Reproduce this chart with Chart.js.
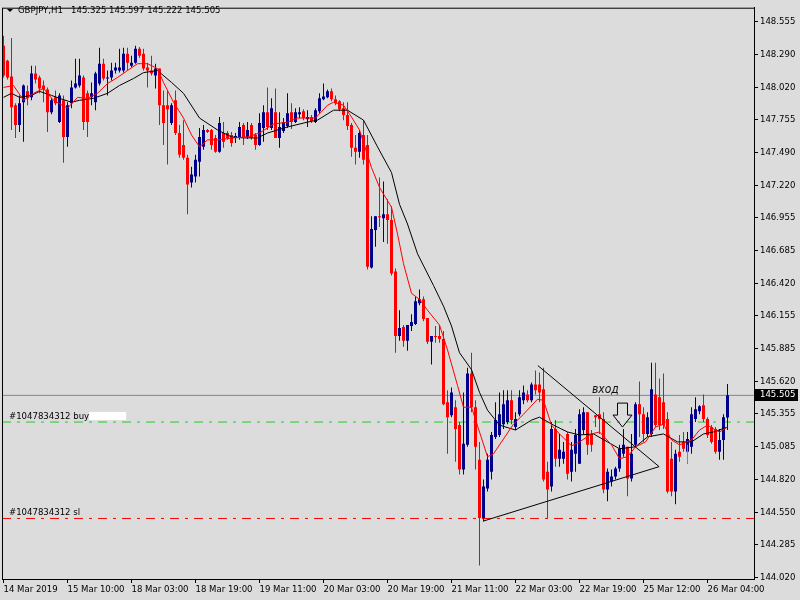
<!DOCTYPE html>
<html>
<head>
<meta charset="utf-8">
<script src="https://cdn.jsdelivr.net/npm/chart.js@4.4.1/dist/chart.umd.min.js"></script>
<style>
  html, body { margin: 0; padding: 0; background: #dcdcdc; }
  #wrap { width: 800px; height: 600px; }
</style>
</head>
<body>
<div id="wrap"><canvas id="c" width="800" height="600"></canvas></div>
<script>
// GBPJPY H1 candles (bar 0 = 14 Mar 18:00)
const open = [
  148.359,148.237,148.108,147.874,147.712,147.898,147.987,147.938,148.132,148.100,
  148.035,148.003,147.817,147.938,147.736,147.914,147.615,147.890,148.019,148.035,
  148.100,147.971,147.938,147.898,148.051,148.213,148.092,148.100,148.157,148.157,
  148.157,148.294,148.197,148.221,148.334,148.294,148.181,148.157,148.116,148.173,
  147.874,147.874,147.728,147.914,147.647,147.550,147.445,147.243,147.292,147.413,
  147.534,147.672,147.672,147.607,147.494,147.647,147.647,147.631,147.607,147.607,
  147.712,147.615,147.712,147.631,147.550,147.688,147.817,147.688,147.817,147.607,
  147.663,147.704,147.817,147.736,147.801,147.825,147.760,147.777,147.736,147.825,
  147.922,147.938,147.987,147.922,147.906,147.849,147.793,147.712,147.526,147.494,
  147.631,147.550,146.548,146.855,146.968,146.952,146.984,146.936,146.516,145.990,
  146.063,145.950,146.071,146.087,146.257,146.289,146.136,145.942,145.990,145.990,
  145.966,145.448,145.343,145.408,145.262,144.899,145.101,145.683,145.408,144.980,
  144.503,144.745,144.882,145.166,145.182,145.270,145.287,145.465,145.246,145.351,
  145.465,145.513,145.465,145.594,145.594,145.554,144.882,144.761,145.230,144.988,
  144.988,145.190,144.882,145.028,144.947,145.222,145.368,145.190,145.343,145.351,
  145.311,144.737,144.802,144.842,144.907,145.028,145.085,144.826,145.101,145.432,
  145.351,145.190,145.190,145.513,145.489,145.448,145.311,144.988,144.721,145.044,
  145.125,145.044,145.085,145.311,145.376,145.424,145.311,145.246,145.230,145.044,
  145.141,145.325
];
const high = [
  148.440,148.245,148.423,147.890,147.954,148.043,148.035,148.197,148.197,148.116,
  148.076,148.019,147.930,147.995,147.971,147.954,147.898,148.076,148.254,148.254,
  148.116,147.995,148.060,148.148,148.342,148.254,148.157,148.221,148.221,148.334,
  148.342,148.342,148.278,148.359,148.350,148.334,148.221,148.278,148.213,148.173,
  147.995,147.995,147.890,147.995,147.712,147.752,147.469,147.372,147.469,147.688,
  147.712,147.680,147.680,147.631,147.777,147.736,147.663,147.655,147.647,147.736,
  147.728,147.736,147.728,147.647,147.809,147.874,148.019,147.930,148.011,147.817,
  147.769,147.971,147.890,147.849,147.857,147.841,147.833,147.793,147.849,147.971,
  148.051,148.003,148.011,147.954,147.914,147.898,147.898,147.728,147.631,147.672,
  147.752,147.631,146.968,146.968,147.284,147.251,147.106,147.049,146.540,146.200,
  146.079,146.079,146.168,146.313,146.370,146.313,146.136,145.990,146.071,146.079,
  146.031,145.546,145.570,145.465,145.287,145.529,145.731,145.853,145.465,145.125,
  144.818,145.028,145.206,145.448,145.529,145.546,145.546,145.546,145.368,145.546,
  145.586,145.546,145.610,145.707,145.691,145.731,144.963,145.287,145.303,145.190,
  145.125,145.206,145.125,145.230,145.392,145.408,145.368,145.222,145.343,145.489,
  145.368,144.907,144.899,144.923,145.101,145.230,145.085,145.190,145.448,145.618,
  145.408,145.368,145.772,145.772,145.643,145.683,145.368,145.125,145.061,145.182,
  145.206,145.206,145.408,145.489,145.424,145.513,145.327,145.262,145.246,145.230,
  145.351,145.597
];
const low = [
  148.100,148.084,147.672,147.607,147.655,147.575,147.874,147.914,148.051,147.971,
  147.898,147.655,147.801,147.874,147.728,147.405,147.534,147.849,148.011,148.019,
  147.672,147.615,147.874,147.833,148.035,148.076,147.954,148.076,148.132,148.140,
  148.140,148.157,148.181,148.213,148.262,148.157,148.019,148.116,148.011,147.712,
  147.550,147.389,147.712,147.631,147.445,147.429,146.984,147.203,147.243,147.292,
  147.510,147.647,147.510,147.486,147.486,147.526,147.591,147.534,147.566,147.591,
  147.550,147.599,147.591,147.510,147.542,147.575,147.672,147.672,147.607,147.526,
  147.647,147.688,147.680,147.728,147.769,147.752,147.696,147.728,147.728,147.809,
  147.914,147.930,147.906,147.874,147.825,147.752,147.672,147.453,147.389,147.445,
  147.389,146.532,146.540,146.718,146.879,146.758,146.742,146.483,145.853,145.950,
  145.901,145.869,146.031,146.079,146.241,146.111,145.925,145.756,145.934,145.934,
  145.424,145.028,145.327,144.963,144.858,144.858,145.085,145.368,144.899,144.115,
  144.478,144.721,144.818,145.149,145.166,145.230,145.270,145.270,145.222,145.335,
  145.432,145.448,145.448,145.513,145.448,144.802,144.503,144.721,144.923,144.923,
  144.947,144.818,144.802,144.882,144.947,145.190,145.020,145.044,145.246,145.190,
  144.705,144.640,144.761,144.818,144.882,145.004,144.681,144.802,145.085,145.166,
  145.125,145.166,145.166,145.246,145.222,145.230,144.705,144.681,144.616,144.963,
  145.044,144.947,145.028,145.287,145.351,145.287,145.157,145.109,145.028,144.980,
  144.980,145.222
];
const close = [
  148.116,148.100,147.857,147.712,147.890,148.035,147.930,148.132,148.084,148.011,
  148.003,147.817,147.914,147.890,147.954,147.615,147.874,148.019,148.051,148.116,
  147.736,147.736,147.971,148.132,148.213,148.092,148.100,148.157,148.181,148.181,
  148.294,148.221,148.221,148.334,148.278,148.173,148.157,148.132,148.173,147.874,
  147.728,147.841,147.874,147.647,147.469,147.445,147.227,147.308,147.429,147.615,
  147.672,147.655,147.550,147.494,147.728,147.575,147.607,147.566,147.623,147.696,
  147.615,147.672,147.607,147.550,147.728,147.817,147.696,147.849,147.607,147.696,
  147.736,147.809,147.736,147.817,147.817,147.769,147.777,147.744,147.833,147.930,
  147.946,147.987,147.922,147.890,147.841,147.793,147.704,147.526,147.494,147.647,
  147.429,146.556,146.863,146.968,146.960,146.984,146.936,146.499,145.990,146.055,
  145.950,146.079,146.103,146.273,146.289,146.128,145.942,145.990,145.982,145.966,
  145.432,145.327,145.529,145.230,144.899,145.109,145.683,145.408,145.085,144.503,
  144.761,144.980,145.182,145.303,145.351,145.432,145.465,145.303,145.311,145.489,
  145.529,145.465,145.594,145.546,145.529,144.818,144.737,145.230,144.988,145.061,
  145.044,144.866,145.061,145.182,145.351,145.368,145.101,145.101,145.327,145.311,
  144.737,144.882,144.842,144.907,145.069,145.101,144.826,145.028,145.432,145.351,
  145.190,145.327,145.554,145.262,145.262,145.262,144.721,144.721,145.028,145.004,
  145.069,145.149,145.351,145.392,145.416,145.311,145.182,145.125,145.044,145.141,
  145.327,145.505
];

// moving averages (bar index, price), read at points along each curve
const maFastIdx = [0,2.5,5,7.5,10,12.5,16,18.5,21,23.5,26,28.5,31,33.5,36,38.5,40,42.5,45,47,
  49,51,53.5,57.5,61,64,67.5,71,73.5,78,81,82.5,85,87,89,92,94,97,98.5,100,
  102,104,106,109,111,113.5,115,117,119,121,122.5,125,127.5,130,133.5,135,137,139,142,144,
  147,149,152,154,156,158,160.5,163,165,167,169,172,174,176,178,179,181];
const maFastVal = [148.019,148.035,147.914,147.971,148.011,147.914,147.849,147.938,147.930,147.971,
  148.051,148.100,148.157,148.213,148.213,148.173,148.060,147.898,147.769,147.631,
  147.534,147.591,147.591,147.607,147.615,147.647,147.720,147.736,147.769,147.769,
  147.874,147.898,147.874,147.777,147.672,147.364,147.203,147.041,146.823,146.580,
  146.338,146.289,146.200,146.079,145.877,145.586,145.408,145.408,145.206,145.004,
  145.028,145.149,145.270,145.351,145.473,145.465,145.262,145.190,145.093,145.125,
  145.190,145.206,145.101,144.988,145.004,145.085,145.125,145.246,145.270,145.141,
  145.101,145.141,145.222,145.262,145.222,145.206,145.246];
const maSlowIdx = [0,2,4,7,9,12,14,17,19,22.5,26,29,32.5,35,38.5,42,45,49,53.5,57,
  60,63.5,66,71,76,78.5,82.5,86,90,93.5,97,99,101,103.5,107.5,110,112,114,117,119,
  121,124,128,132,134,137.5,141,144,147.5,151,154,158,161,165,168.5,172,175,177.5,181];
const maSlowVal = [147.938,147.971,147.938,147.954,147.987,147.954,147.930,147.898,147.914,147.930,
  147.971,148.035,148.092,148.140,148.157,148.060,147.971,147.769,147.672,147.615,
  147.607,147.607,147.647,147.696,147.736,147.752,147.833,147.833,147.752,147.534,
  147.324,147.065,146.904,146.661,146.402,146.233,146.071,145.853,145.715,145.529,
  145.384,145.262,145.222,145.303,145.327,145.262,145.206,145.182,145.190,145.125,
  145.069,145.085,145.166,145.190,145.125,145.125,145.190,145.206,145.246];

// triangle trend lines
const trendDownIdx = [133.6, 163.9];
const trendDownVal = [145.748, 144.923];
const trendUpIdx = [119.9, 163.9];
const trendUpVal = [144.478, 144.923];

// levels
const bidPrice = 145.505;
const buyPrice = 145.287;
const slPrice = 144.500;
const entryIdx = [171];
const entryLow = [144.947];
const entryHigh = [145.101];

const xTickIdx = [0, 16, 32, 48, 64, 80, 96, 112, 128, 144, 160, 176];
const xTickLabels = ['14 Mar 2019', '15 Mar 10:00', '18 Mar 03:00', '18 Mar 19:00', '19 Mar 11:00',
  '20 Mar 03:00', '20 Mar 19:00', '21 Mar 11:00', '22 Mar 03:00', '22 Mar 19:00', '25 Mar 12:00', '26 Mar 04:00'];
const yTickLabels = ['148.555', '148.290', '148.020', '147.755', '147.490', '147.220', '146.955', '146.685',
  '146.420', '146.155', '145.885', '145.620', '145.355', '145.085', '144.820', '144.550', '144.285', '144.020'];

const FONT = "'DejaVu Sans Condensed', 'Liberation Sans', Arial, sans-serif";
const BULL = '#00008b', BEAR = '#ff0000';
const X_MIN = -0.375, X_MAX = 187.625;
const Y_MIN = 144.0057, Y_MAX = 148.670;

const candleColor = i => close[i] >= open[i] ? BULL : BEAR;
const pts = (xs, ys) => xs.map((x, i) => ({ x, y: ys[i] }));
const hline = v => [{ x: X_MIN, y: v }, { x: X_MAX, y: v }];
const lineDs = (data, color, extra) => Object.assign({
  type: 'line', data, borderColor: color, borderWidth: 1, pointRadius: 0,
  tension: 0, fill: false, clip: 0
}, extra || {});

const chrome = {
  id: 'chrome',
  beforeDraw(chart) {
    const c = chart.ctx;
    c.save();
    c.fillStyle = '#dcdcdc';
    c.fillRect(0, 0, chart.width, chart.height);
    c.restore();
  },
  afterDraw(chart) {
    const { ctx: c, chartArea: a, scales: { x, y } } = chart;
    c.save();
    c.strokeStyle = '#000';
    c.lineWidth = 1;
    c.strokeRect(a.left + 0.5, a.top + 0.5, a.right - a.left, a.bottom - a.top);

    // header
    c.fillStyle = '#000';
    c.beginPath(); c.moveTo(7, 9); c.lineTo(13, 9); c.lineTo(10, 12); c.closePath(); c.fill();
    c.font = '9.5px ' + FONT;
    c.textBaseline = 'middle';
    c.fillText('GBPJPY,H1   145.325 145.597 145.222 145.505', 18, 11);

    // order labels
    c.font = '9.5px ' + FONT;
    c.textBaseline = 'alphabetic';
    const by = y.getPixelForValue(buyPrice);
    c.fillText('#1047834312 buy', 9, by - 3);
    const w = c.measureText('#1047834312 buy').width;
    c.fillStyle = '#fff';
    c.fillRect(9 + w, by - 10, 37, 8);
    c.fillStyle = '#000';
    const sy = y.getPixelForValue(slPrice);
    c.fillText('#1047834312 sl', 9, sy - 3);

    // entry text + arrow
    c.fillStyle = '#111';
    c.font = 'italic 12px ' + FONT;
    c.fillText('вход', x.getPixelForValue(147.1), y.getPixelForValue(145.521));
    const ax = x.getPixelForValue(154.75), ay = y.getPixelForValue(145.246);
    c.beginPath();
    c.moveTo(ax, ay);
    c.lineTo(ax - 9.5, ay - 12);
    c.lineTo(ax - 5, ay - 12);
    c.lineTo(ax - 5, ay - 24);
    c.lineTo(ax + 5, ay - 24);
    c.lineTo(ax + 5, ay - 12);
    c.lineTo(ax + 9.5, ay - 12);
    c.closePath();
    c.stroke();

    // bid price box on the axis
    const py = Math.round(y.getPixelForValue(bidPrice));
    c.fillStyle = '#000';
    c.fillRect(755, py - 6, 43, 12);
    c.fillStyle = '#fff';
    c.font = '9.5px ' + FONT;
    c.textBaseline = 'middle';
    c.fillText('145.505', 760, py);
    c.restore();
  }
};

new Chart(document.getElementById('c'), {
  type: 'bar',
  data: {
    datasets: [
      lineDs(pts(trendDownIdx, trendDownVal), '#000'),
      lineDs(pts(trendUpIdx, trendUpVal), '#000'),
      lineDs(pts(maFastIdx, maFastVal), '#ff0000'),
      lineDs(pts(maSlowIdx, maSlowVal), '#000000'),
      { type: 'bar', data: entryIdx.map((x, i) => ({ x, y: [entryLow[i], entryHigh[i]] })),
        backgroundColor: '#22cc22', barThickness: 1, grouped: false, inflateAmount: 0 },
      { type: 'bar', data: open.map((o, i) => ({ x: i, y: [o, close[i]] })),
        backgroundColor: c => candleColor(c.dataIndex), barThickness: 3, grouped: false,
        inflateAmount: 0, minBarLength: 1 },
      { type: 'bar', data: low.map((l, i) => ({ x: i, y: [l, high[i]] })),
        backgroundColor: c => candleColor(c.dataIndex), barThickness: 1, grouped: false,
        inflateAmount: 0 },
      lineDs(hline(bidPrice), '#778899'),
      lineDs(hline(buyPrice), '#22cc22', { borderDash: [9, 6, 3, 6] }),
      lineDs(hline(slPrice), '#ff0000', { borderDash: [9, 6, 3, 6] })
    ]
  },
  options: {
    responsive: false, animation: false,
    layout: { padding: { left: 2, top: 2, right: 0, bottom: 0 } },
    plugins: { legend: { display: false }, tooltip: { enabled: false } },
    scales: {
      x: {
        type: 'linear', min: X_MIN, max: X_MAX, offset: false, bounds: 'data',
        afterBuildTicks: s => { s.ticks = xTickIdx.map(v => ({ value: v })); },
        afterFit: s => { s.height = 21; },
        ticks: { callback: (v, i) => xTickLabels[i], autoSkip: false, maxRotation: 0, minRotation: 0,
          align: 'start', padding: 1, color: '#000', font: { family: FONT, size: 9.5 } },
        grid: { offset: false, drawOnChartArea: false, drawTicks: true, tickLength: 4, color: '#000' },
        border: { display: true, color: '#000' }
      },
      y: {
        type: 'linear', position: 'right', min: Y_MIN, max: Y_MAX, beginAtZero: false, bounds: 'data',
        afterBuildTicks: s => { s.ticks = yTickLabels.map(t => ({ value: parseFloat(t) })); },
        afterFit: s => { s.width = 46; },
        ticks: { callback: (v, i) => yTickLabels[i], autoSkip: false, padding: 2, color: '#000',
          font: { family: FONT, size: 9.5 } },
        grid: { drawOnChartArea: false, drawTicks: true, tickLength: 4, color: '#000' },
        border: { display: true, color: '#000' }
      }
    }
  },
  plugins: [chrome]
});
</script>
</body>
</html>
